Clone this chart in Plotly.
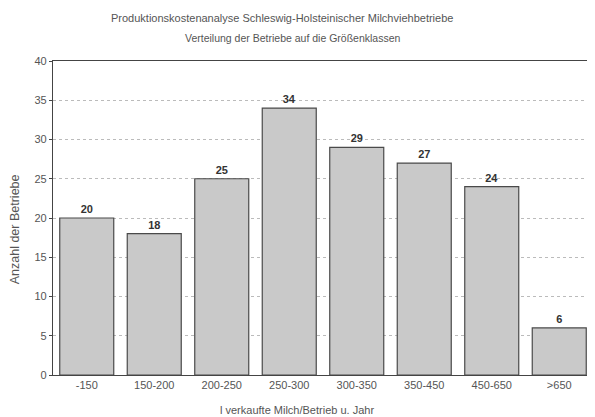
import plotly.graph_objects as go

klassen = ["-150", "150-200", "200-250", "250-300", "300-350", "350-450", "450-650", ">650"]
anzahl = [20, 18, 25, 34, 29, 27, 24, 6]
y_ticks = [0, 5, 10, 15, 20, 25, 30, 35, 40]
titel = ["Produktionskostenanalyse Schleswig-Holsteinischer Milchviehbetriebe",
         "Verteilung der Betriebe auf die Größenklassen"]
x_titel = "l verkaufte Milch/Betrieb u. Jahr"
y_titel = "Anzahl der Betriebe"

fig = go.Figure()
fig.add_trace(go.Bar(
    x=klassen, y=anzahl,
    text=[str(v) for v in anzahl], textposition="outside",
    textfont=dict(family="Liberation Sans", size=11, color="#333333", weight="bold"),
    marker=dict(color="#c9c9c9", line=dict(color="#4a4a4a", width=1.2)),
    width=0.8, cliponaxis=False,
))

# page body has an 8px margin, so the figure is a bit smaller than the window
fig.update_layout(
    width=587, height=409,
    margin=dict(l=45, r=2, t=53, b=42),
    paper_bgcolor="white", plot_bgcolor="white",
    font=dict(family="Liberation Sans", size=11, color="#555555"),
    showlegend=False,
    xaxis=dict(
        showline=True, linecolor="#444444", linewidth=1.2, mirror=True,
        ticks="", tickfont=dict(size=11, color="#555555"), automargin=False,
    ),
    yaxis=dict(
        range=[0, 40], tickvals=y_ticks,
        showline=True, linecolor="#444444", linewidth=1.2, mirror=True,
        showgrid=True, gridcolor="#bbbbbb", griddash="dot", gridwidth=1,
        ticks="outside", ticklen=3, tickcolor="#444444",
        tickfont=dict(size=11, color="#555555"),
        zeroline=False, automargin=False,
    ),
)

# titles as annotations (paper coords = plot area)
fig.add_annotation(text=titel[0], xref="paper", yref="paper", x=0.424, y=1.0,
                   yshift=43, xanchor="center", yanchor="middle", showarrow=False,
                   font=dict(size=11, color="#555555"))
fig.add_annotation(text=titel[1], xref="paper", yref="paper", x=0.444, y=1.0,
                   yshift=23, xanchor="center", yanchor="middle", showarrow=False,
                   font=dict(size=10.5, color="#555555"))
fig.add_annotation(text=x_titel, xref="paper", yref="paper", x=0.452, y=0.0,
                   yshift=-35, xanchor="center", yanchor="middle", showarrow=False,
                   font=dict(size=11, color="#555555"))
fig.add_annotation(text=y_titel, xref="paper", yref="paper", x=0.0, y=0.464,
                   xshift=-38, xanchor="center", yanchor="middle", showarrow=False,
                   textangle=-90, font=dict(size=12.5, color="#555555"))

fig.write_html("out.html")
